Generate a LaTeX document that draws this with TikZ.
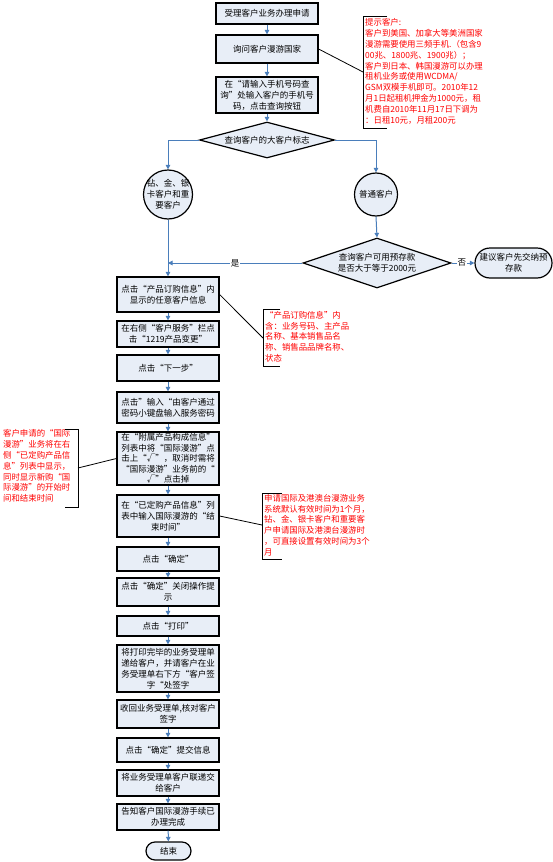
\documentclass[tikz,border=0pt]{standalone}
\usepackage{fontspec}
\usepackage{newunicodechar}
\setmainfont{Noto Sans CJK SC}
\newfontfamily\fq{Noto Sans CJK SC}[RawFeature=+fwid]
\newunicodechar{“}{{\fq\symbol{"201C}}}
\newunicodechar{”}{{\fq\symbol{"201D}}}
\usetikzlibrary{shapes.geometric,arrows.meta}
\definecolor{boxfill}{RGB}{232,238,247}
\definecolor{arrowblue}{RGB}{74,126,187}
\definecolor{notered}{RGB}{255,0,0}
\begin{document}
\begin{tikzpicture}[x=1pt,y=-1pt,
  txt/.style={font=\fontsize{8.5}{11}\selectfont},
  box/.style={txt, draw=black, line width=1.2pt, fill=boxfill, minimum width=102pt, inner sep=0pt, align=center},
  dia/.style={draw=black, line width=1.2pt, fill=boxfill, diamond, inner sep=0pt},
  circ/.style={draw=black, line width=1.2pt, fill=boxfill, circle, inner sep=0pt},
  term/.style={box},
  lbl/.style={txt, align=center, inner sep=0pt},
  arrow/.style={draw=arrowblue, line width=1pt, -{Triangle[length=4.5pt,width=4.5pt]}},
  yn/.style={txt, fill=white, inner sep=1pt},
  note/.style={text=notered, align=left, inner sep=0pt, font=\fontsize{8.4}{10.8}\selectfont},
  bracket/.style={draw=black, line width=0.9pt},
  link/.style={draw=black, line width=0.8pt}]
\useasboundingbox (0,0) rectangle (553,862);

% upper column
\node[box, minimum height=21pt] (b1) at (267,13.5) {受理客户业务办理申请};
\node[box, minimum height=28pt] (b2) at (267,49) {询问客户漫游国家};
\node[box, minimum height=36pt] (b3) at (267,95) {在“请输入手机号码查\\询”处输入客户的手机号\\码，点击查询按钮};
\node[dia, minimum width=135pt, minimum height=36pt, label={[lbl]center:查询客户的大客户标志}] (d1) at (267,140) {};
\node[circ, minimum size=49pt, label={[lbl]center:{钻、金、银\\卡客户和重\\要客户}}] (c1) at (168,194.5) {};
\node[circ, minimum size=43pt, label={[lbl]center:普通客户}] (c2) at (376,194.5) {};
\node[dia, minimum width=148pt, minimum height=50pt, label={[lbl]center:{查询客户可用预存款\\是否大于等于2000元}}] (d2) at (377,263) {};
\node[term, minimum width=77pt, minimum height=30pt, rounded corners=15pt] (e1) at (513.5,263) {建议客户先交纳预\\存款};

% lower column
\node[box, minimum height=35pt] (b4) at (168,294.5) {点击“产品订购信息”内\\显示的任意客户信息};
\node[box, minimum height=26pt] (b5) at (168,334) {在右侧“客户服务”栏点\\击“1219产品变更”};
\node[box, minimum height=26pt] (b6) at (168,368) {点击“下一步”};
\node[box, minimum height=31pt] (b7) at (168,407.5) {点击”输入“由客户通过\\密码小键盘输入服务密码};
\node[box, minimum height=53pt, font=\fontsize{8.5}{10.6}\selectfont] (b8) at (168,458.5) {在“附属产品构成信息”\\列表中将“国际漫游”点\\击上“√”，取消时需将\\“国际漫游”业务前的“\\√”点击掉};
\node[box, minimum height=42pt] (b9) at (168,516) {在“已定购产品信息”列\\表中输入国际漫游的“结\\束时间”};
\node[box, minimum height=24pt] (b10) at (168,559) {点击“确定”};
\node[box, minimum height=28pt] (b11) at (168,592) {点击“确定”关闭操作提\\示};
\node[box, minimum height=20pt] (b12) at (168,626) {点击“打印”};
\node[box, minimum height=47pt] (b13) at (168,668.5) {将打印完毕的业务受理单\\递给客户，并请客户在业\\务受理单右下方“客户签\\字“处签字};
\node[box, minimum height=28pt] (b14) at (168,714) {收回业务受理单,核对客户\\签字};
\node[box, minimum height=24pt] (b15) at (168,750) {点击“确定”提交信息};
\node[box, minimum height=26pt] (b16) at (168,783) {将业务受理单客户联递交\\给客户};
\node[box, minimum height=26pt] (b17) at (168,817) {告知客户国际漫游手续已\\办理完成};
\node[term, minimum width=45pt, minimum height=18pt, rounded corners=9pt] (end) at (168.5,851) {结束};

% connectors
\draw[arrow] (b1) -- (b2);
\draw[arrow] (b2) -- (b3);
\draw[arrow] (b3) -- (d1.north);
\draw[arrow] (d1.west) -| (c1.north);
\draw[arrow] (d1.east) -| (c2.north);
\draw[arrow] (c2.south) -- (d2.north);
\draw[arrow] (c1.south) -- (b4.north);
\draw[arrow] (d2.west) -- (c1.south |- d2.west) node[yn, pos=0.5] {是};
\draw[arrow] (d2.east) -- (e1.west) node[yn, pos=0.45] {否};
\foreach \a/\b in {b4/b5,b5/b6,b6/b7,b7/b8,b8/b9,b9/b10,b10/b11,b11/b12,b12/b13,b13/b14,b14/b15,b15/b16,b16/b17,b17/end}
  \draw[arrow] (\a) -- (\b);

% annotation 1
\node[note, anchor=north west] (n1) at (365,18.5) {提示客户:\\客户到美国、加拿大等美洲国家\\漫游需要使用三频手机.（包含9\\00兆、1800兆、1900兆）；\\客户到日本、韩国漫游可以办理\\租机业务或使用WCDMA/\\GSM双模手机即可。2010年12\\月1日起租机押金为1000元，租\\机费自2010年11月17日下调为\\：日租10元，月租200元};
\draw[bracket] (387,16) -- (363,16) -- (363,128) -- (387,128);
\coordinate (k1) at (363,72);
\draw[link] (b2.east) -- (k1);

% annotation 2
\node[note, anchor=north west] (n2) at (265,311) {“产品订购信息”内\\含：业务号码、主产品\\名称、基本销售品名\\称、销售品品牌名称、\\状态};
\draw[bracket] (280,309) -- (263,309) -- (263,366) -- (280,366);
\coordinate (k2) at (263,338);
\draw[link] (b4.east) -- (k2);

% annotation 3
\node[note, anchor=north west] (n3) at (3,429.5) {客户申请的“国际\\漫游”业务将在右\\侧“已定购产品信\\息”列表中显示，\\同时显示新购“国\\际漫游”的开始时\\间和结束时间};
\draw[bracket] (65,429) -- (78,429) -- (78,507) -- (65,507);
\coordinate (k3) at (78,468);
\draw[link] (b8.west) -- (k3);

% annotation 4
\node[note, anchor=north west] (n4) at (264,494) {申请国际及港澳台漫游业务\\系统默认有效时间为1个月，\\钻、金、银卡客户和重要客\\户申请国际及港澳台漫游时\\，可直接设置有效时间为3个\\月};
\draw[bracket] (282,493) -- (262,493) -- (262,559) -- (282,559);
\coordinate (k4) at (262,525);
\draw[link] (b9.east) -- (k4);
\end{tikzpicture}
\end{document}
